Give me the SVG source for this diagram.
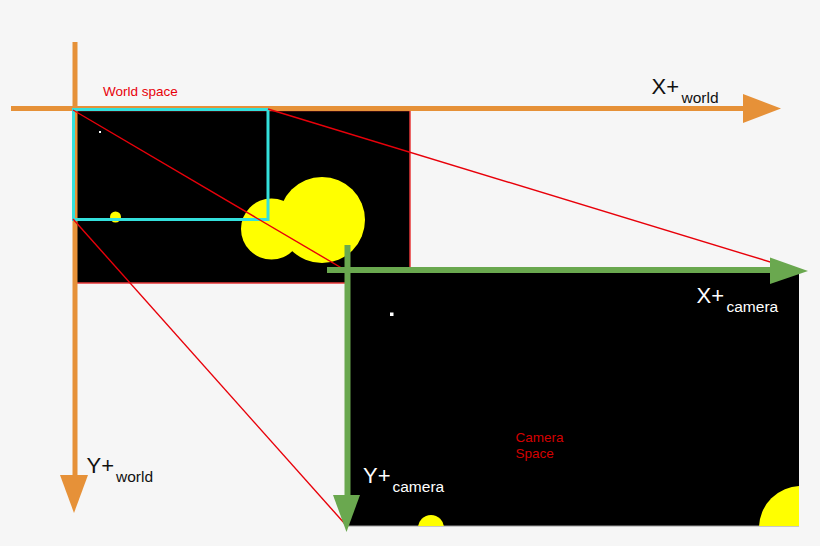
<svg xmlns="http://www.w3.org/2000/svg" width="820" height="546" viewBox="0 0 820 546">
<defs>
<style>
.lbl{font-family:"Liberation Sans",Arial,sans-serif;}
.ax{font-size:22px;}
.sub{font-size:15.5px;}
.proj{stroke:#e8000a;stroke-width:1.4;fill:none;}
</style>
<clipPath id="camclip"><rect x="345" y="272" width="454" height="254"/></clipPath>
</defs>
<rect x="0" y="0" width="820" height="546" fill="#f6f6f6"/>

<g id="world-space">
<rect x="75.5" y="110.5" width="334.5" height="172.5" fill="#000" stroke="#e8383a" stroke-width="1.5"/>
<rect x="99" y="131" width="2" height="2" fill="#fff"/>
<circle cx="115.5" cy="217" r="5.5" fill="#ffff00"/>
<circle cx="271.5" cy="229" r="30.5" fill="#ffff00"/>
<circle cx="322" cy="220" r="43" fill="#ffff00"/>
<text class="lbl" x="103" y="96" font-size="13.5" fill="#e8000a">World space</text>
</g>

<g id="world-axes">
<line x1="75" y1="42" x2="75" y2="476" stroke="#e69138" stroke-width="5"/>
<polygon points="60,475 88,475 74,513" fill="#e69138"/>
<line x1="11" y1="108.5" x2="745" y2="108.5" stroke="#e69138" stroke-width="5"/>
<polygon points="743,94 743,123 781,108.5" fill="#e69138"/>
<text class="lbl ax" x="651.5" y="93.5" fill="#111">X+</text>
<text class="lbl sub" x="681.5" y="102.5" fill="#111">world</text>
<text class="lbl ax" x="86.5" y="472.5" fill="#111">Y+</text>
<text class="lbl sub" x="116" y="481.5" fill="#111">world</text>
</g>

<g id="viewport">
<rect x="73.5" y="109.5" width="194.5" height="110" fill="none" stroke="#33e0dc" stroke-width="3"/>
</g>

<g id="camera-space">
<rect x="345" y="272" width="454" height="254" fill="#000"/>
<line x1="345" y1="526" x2="799" y2="526" stroke="#9a9a9a" stroke-width="1"/>
<rect x="390" y="312.5" width="3.5" height="3.5" fill="#fff"/>
<g clip-path="url(#camclip)">
<circle cx="431" cy="528" r="13" fill="#ffff00"/>
<circle cx="801" cy="528" r="42" fill="#ffff00"/>
</g>
<text class="lbl" x="515.5" y="442" font-size="13.5" fill="#d40000">Camera</text>
<text class="lbl" x="515.5" y="457.5" font-size="13.5" fill="#d40000">Space</text>
</g>

<g id="connectors">
<line class="proj" x1="73" y1="110" x2="345" y2="270"/>
<line class="proj" x1="268" y1="109" x2="790" y2="268"/>
<line class="proj" x1="73" y1="219" x2="345" y2="524"/>
</g>

<g id="camera-axes">
<line x1="327" y1="270" x2="772" y2="270" stroke="#6aa84f" stroke-width="6"/>
<polygon points="770,257.5 770,284 808,271" fill="#6aa84f"/>
<line x1="347.5" y1="245" x2="347.5" y2="497" stroke="#6aa84f" stroke-width="6"/>
<polygon points="333,495 360,495 346.5,532" fill="#6aa84f"/>
<text class="lbl ax" x="696.5" y="302.5" fill="#fff">X+</text>
<text class="lbl sub" x="726.5" y="311.5" fill="#fff">camera</text>
<text class="lbl ax" x="363" y="482.5" fill="#fff">Y+</text>
<text class="lbl sub" x="392.5" y="491.5" fill="#fff">camera</text>
</g>
</svg>
